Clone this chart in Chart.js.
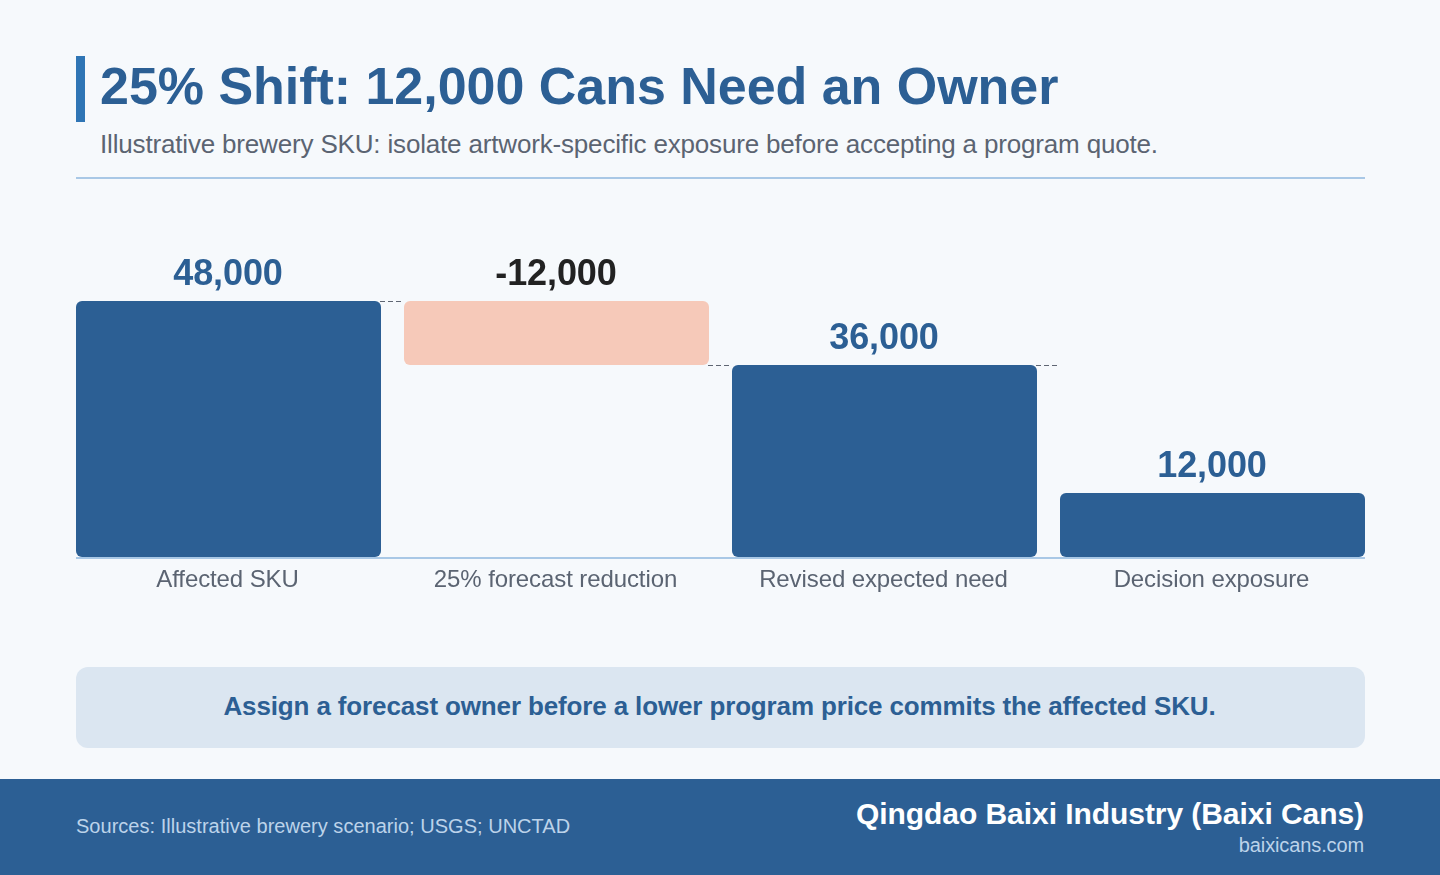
<!DOCTYPE html>
<html><head><meta charset="utf-8">
<script src="https://cdn.jsdelivr.net/npm/chart.js@4/dist/chart.umd.min.js"></script>
<style>
html,body{margin:0;padding:0}
body{width:1440px;height:875px;overflow:hidden;background:#f6f9fc;position:relative;font-family:"Liberation Sans",Arial,sans-serif}
.a{position:absolute;white-space:nowrap}
#wrap{position:absolute;left:0;top:190px;width:1440px;height:417px}
</style></head><body>
<div class="a" style="left:76px;top:56px;width:9px;height:66px;background:#2f75b5"></div>
<div class="a" style="left:100px;top:56px;line-height:60px;font-size:52px;letter-spacing:-0.03px;font-weight:700;color:#2c5f94">25% Shift: 12,000 Cans Need an Owner</div>
<div class="a" style="left:100px;top:128px;line-height:32px;font-size:26px;letter-spacing:-0.17px;color:#5b6472">Illustrative brewery SKU: isolate artwork-specific exposure before accepting a program quote.</div>
<div class="a" style="left:76px;top:177px;width:1289px;height:2px;background:#a9c8e6"></div>
<div id="wrap"><canvas id="c"></canvas></div>
<div class="a" style="left:76px;top:667px;width:1287px;padding-right:2px;height:81px;border-radius:12px;background:#dbe6f1;text-align:center;line-height:79px;font-size:26px;letter-spacing:-0.137px;font-weight:700;color:#2c5f94">Assign a forecast owner before a lower program price commits the affected SKU.</div>
<div class="a" style="left:0;top:779px;width:1440px;height:96px;background:#2c5f94"></div>
<div class="a" style="left:76px;top:814px;line-height:24px;font-size:20px;letter-spacing:0.02px;color:#bcd3ea">Sources: Illustrative brewery scenario; USGS; UNCTAD</div>
<div class="a" style="right:76px;top:796px;line-height:36px;font-size:30px;letter-spacing:-0.06px;font-weight:700;color:#fff">Qingdao Baixi Industry (Baixi Cans)</div>
<div class="a" style="right:76px;top:833px;line-height:24px;font-size:20px;letter-spacing:-0.12px;color:#bcd3ea">baixicans.com</div>
<script>
const categories = ["Affected SKU", "25% forecast reduction", "Revised expected need", "Decision exposure"];
const barStart = [0, 36000, 0, 0];
const barEnd = [48000, 48000, 36000, 12000];
const valueLabels = ["48,000", "-12,000", "36,000", "12,000"];
const connectorLevels = [48000, 36000, 36000];
const barColors = ["#2c5f94", "#f6c9b9", "#2c5f94", "#2c5f94"];
const labelColors = ["#2c5f94", "#222222", "#2c5f94", "#2c5f94"];

const annotate = {
  id: "annotate",
  beforeDraw(chart) { chart.ctx.letterSpacing = "-0.1px"; },
  afterDatasetsDraw(chart) {
    const ctx = chart.ctx, bars = chart.getDatasetMeta(0).data, y = chart.scales.y;
    ctx.save();
    ctx.strokeStyle = "#5f6673"; ctx.lineWidth = 1; ctx.setLineDash([5, 3]);
    connectorLevels.forEach((v, i) => {
      const py = Math.round(y.getPixelForValue(v)) + 0.5;
      ctx.beginPath();
      ctx.moveTo(bars[i].x + bars[i].width / 2 - 1, py);
      ctx.lineTo(bars[i + 1].x - bars[i + 1].width / 2 - 3, py);
      ctx.stroke();
    });
    ctx.setLineDash([]);
    const base = y.getPixelForValue(0);
    ctx.strokeStyle = "#a9c8e6"; ctx.lineWidth = 2;
    ctx.beginPath();
    ctx.moveTo(bars[0].x - bars[0].width / 2, base + 1);
    ctx.lineTo(bars[3].x + bars[3].width / 2, base + 1);
    ctx.stroke();
    ctx.font = '700 36px "Liberation Sans"';
    ctx.textAlign = "center"; ctx.textBaseline = "alphabetic";
    valueLabels.forEach((t, i) => {
      ctx.fillStyle = labelColors[i];
      ctx.fillText(t, bars[i].x - 0.5, y.getPixelForValue(barEnd[i]) - 16);
    });
    ctx.restore();
  }
};

new Chart(document.getElementById("c"), {
  type: "bar",
  data: {
    labels: categories,
    datasets: [{
      data: barStart.map((s, i) => [s, barEnd[i]]),
      backgroundColor: barColors,
      borderRadius: 6,
      borderSkipped: false,
      borderWidth: 0,
      inflateAmount: 0,
      barPercentage: 305 / 328,
      categoryPercentage: 1
    }]
  },
  options: {
    responsive: true,
    maintainAspectRatio: false,
    animation: false,
    layout: { padding: { left: 64.5, right: 63.5, top: 111, bottom: 0 } },
    plugins: { legend: { display: false }, tooltip: { enabled: false } },
    scales: {
      x: {
        border: { display: false },
        grid: { display: false },
        ticks: { color: "#5b6472", font: { family: '"Liberation Sans"', size: 24 }, padding: 1, labelOffset: -1, maxRotation: 0, autoSkip: false },
        afterFit(s) { s.height = 50; }
      },
      y: { display: false, min: 0, max: 48000 }
    }
  },
  plugins: [annotate]
});
</script>
</body></html>
